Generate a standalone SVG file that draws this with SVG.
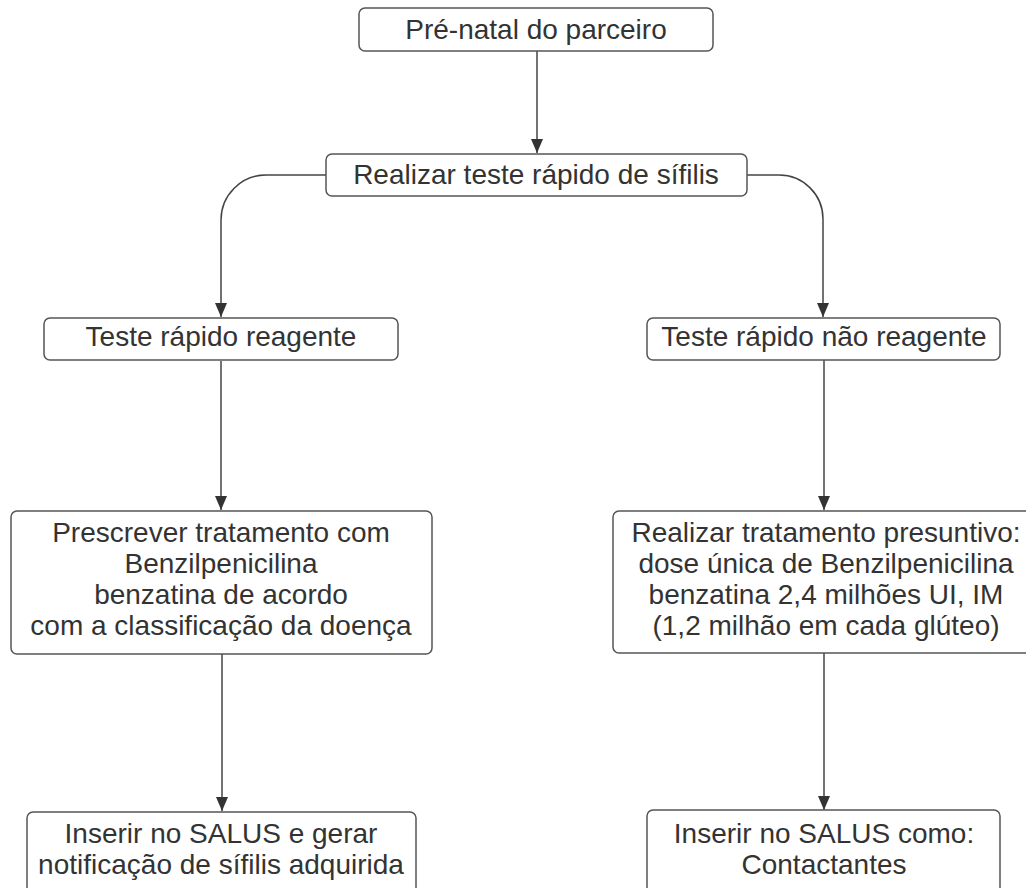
<svg xmlns="http://www.w3.org/2000/svg" width="1026" height="888" viewBox="0 0 1026 888">
<style>
.box{fill:#fff;stroke:#555;stroke-width:1.5}
.t{font-family:"Liberation Sans",Arial,sans-serif;font-size:28px;fill:#333;text-anchor:middle}
.c{fill:none;stroke:#444;stroke-width:1.5;marker-end:url(#ah)}
</style>
<defs>
<marker id="ah" markerWidth="14" markerHeight="12" refX="14" refY="6" orient="auto" markerUnits="userSpaceOnUse" viewBox="0 0 14 12">
<path d="M0,0 L14,6 L0,12 Z" fill="#333"/>
</marker>
</defs>
<rect width="1026" height="888" fill="#fff"/>
<g id="connectors">
<path class="c" d="M537,51 V153"/>
<path class="c" d="M326,175 H266 A45,45 0 0 0 221,220 V317"/>
<path class="c" d="M747,175 H779 A44,44 0 0 1 823,219 V317"/>
<path class="c" d="M221,361 V510"/>
<path class="c" d="M824,360 V510"/>
<path class="c" d="M222,654 V811"/>
<path class="c" d="M824,653 V810"/>
</g>
<g id="n1">
<rect class="box" x="359" y="8" width="354" height="43" rx="6"/>
<text class="t" x="536" y="39">Pré-natal do parceiro</text>
</g>
<g id="n2">
<rect class="box" x="326" y="154" width="421" height="42" rx="6"/>
<text class="t" x="536" y="184">Realizar teste rápido de sífilis</text>
</g>
<g id="n3">
<rect class="box" x="44" y="318" width="354" height="42" rx="6"/>
<text class="t" x="221" y="346">Teste rápido reagente</text>
</g>
<g id="n4">
<rect class="box" x="647" y="318" width="353" height="42" rx="6"/>
<text class="t" x="824" y="346">Teste rápido não reagente</text>
</g>
<g id="n5">
<rect class="box" x="11" y="511" width="421" height="143" rx="6"/>
<text class="t" x="221" y="542">Prescrever tratamento com</text>
<text class="t" x="221" y="573">Benzilpenicilina</text>
<text class="t" x="221" y="604">benzatina de acordo</text>
<text class="t" x="221" y="635">com a classificação da doença</text>
</g>
<g id="n6">
<rect class="box" x="613" y="511" width="424" height="142" rx="6"/>
<text class="t" x="826" y="542">Realizar tratamento presuntivo:</text>
<text class="t" x="826" y="573">dose única de Benzilpenicilina</text>
<text class="t" x="826" y="604">benzatina 2,4 milhões UI, IM</text>
<text class="t" x="826" y="635">(1,2 milhão em cada glúteo)</text>
</g>
<g id="n7">
<rect class="box" x="27" y="812" width="389" height="100" rx="6"/>
<text class="t" x="221" y="843">Inserir no SALUS e gerar</text>
<text class="t" x="221" y="874">notificação de sífilis adquirida</text>
</g>
<g id="n8">
<rect class="box" x="647" y="810" width="353" height="100" rx="6"/>
<text class="t" x="824" y="843">Inserir no SALUS como:</text>
<text class="t" x="824" y="874">Contactantes</text>
</g>
</svg>
